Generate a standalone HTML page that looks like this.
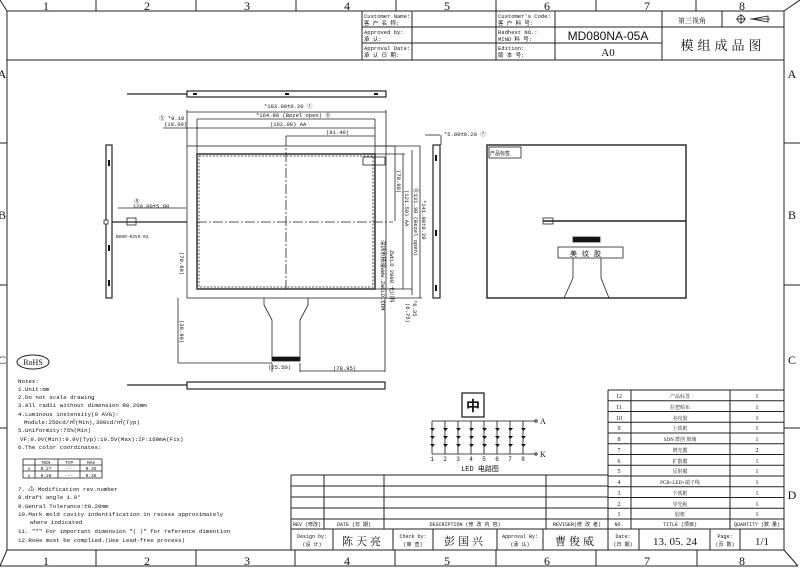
<!DOCTYPE html>
<html><head><meta charset="utf-8"><style>
html,body{margin:0;padding:0;background:#fff;}
svg{display:block;}
text{font-family:"Liberation Serif","Noto Serif CJK SC",serif;fill:#111;}
.m text, text.m{font-family:"Liberation Mono","Noto Sans CJK SC",monospace;}
.s text, text.s{font-family:"Liberation Sans","Noto Sans CJK SC",sans-serif;}
</style></head><body>
<svg width="800" height="568" viewBox="0 0 800 568" xmlns="http://www.w3.org/2000/svg">
<g stroke="#222" fill="none" stroke-width="1">
<rect x="7" y="11" width="777" height="539"/>
<line x1="0" y1="0" x2="7" y2="11"/><line x1="784" y1="11" x2="800" y2="0"/>
<line x1="0" y1="566" x2="7" y2="550"/><line x1="784" y1="550" x2="798" y2="566"/>
<line x1="0" y1="566" x2="798" y2="566"/>
<line x1="96" y1="0" x2="96" y2="11"/><line x1="196" y1="0" x2="196" y2="11"/><line x1="296" y1="0" x2="296" y2="11"/><line x1="396" y1="0" x2="396" y2="11"/><line x1="496" y1="0" x2="496" y2="11"/><line x1="596" y1="0" x2="596" y2="11"/><line x1="696" y1="0" x2="696" y2="11"/>
<line x1="96" y1="550" x2="96" y2="566"/><line x1="196" y1="550" x2="196" y2="566"/><line x1="295" y1="550" x2="295" y2="566"/><line x1="395" y1="550" x2="395" y2="566"/><line x1="496" y1="550" x2="496" y2="566"/><line x1="596" y1="550" x2="596" y2="566"/><line x1="697" y1="550" x2="697" y2="566"/>
<line x1="0" y1="143" x2="7" y2="143"/><line x1="0" y1="285" x2="7" y2="285"/><line x1="0" y1="428" x2="7" y2="428"/>
<line x1="784" y1="143" x2="800" y2="143"/><line x1="784" y1="285" x2="800" y2="285"/><line x1="784" y1="428" x2="800" y2="428"/>
<line x1="7" y1="60" x2="784" y2="60"/>
<line x1="362" y1="11" x2="362" y2="60"/>
<line x1="362" y1="27" x2="662" y2="27"/><line x1="362" y1="43" x2="662" y2="43"/>
<line x1="662" y1="27" x2="784" y2="27"/>
<line x1="412" y1="11" x2="412" y2="60"/><line x1="496" y1="11" x2="496" y2="60"/><line x1="555" y1="11" x2="555" y2="60"/><line x1="662" y1="11" x2="662" y2="60"/><line x1="722" y1="11" x2="722" y2="27"/>
<line x1="291" y1="475" x2="608" y2="475"/><line x1="291" y1="486" x2="608" y2="486"/><line x1="291" y1="497" x2="608" y2="497"/><line x1="291" y1="508" x2="608" y2="508"/>
<line x1="291" y1="519" x2="784" y2="519"/><line x1="291" y1="529" x2="784" y2="529"/>
<line x1="291" y1="475" x2="291" y2="550"/>
<line x1="324" y1="475" x2="324" y2="529"/><line x1="384" y1="475" x2="384" y2="529"/><line x1="546" y1="475" x2="546" y2="529"/>
<line x1="333" y1="529" x2="333" y2="550"/><line x1="393" y1="529" x2="393" y2="550"/><line x1="433" y1="529" x2="433" y2="550"/><line x1="497" y1="529" x2="497" y2="550"/><line x1="543" y1="529" x2="543" y2="550"/><line x1="608" y1="529" x2="608" y2="550"/><line x1="639" y1="529" x2="639" y2="550"/><line x1="710" y1="529" x2="710" y2="550"/><line x1="740" y1="529" x2="740" y2="550"/>
<line x1="608" y1="390" x2="784" y2="390"/>
<line x1="608" y1="390" x2="608" y2="529"/><line x1="631" y1="390" x2="631" y2="529"/><line x1="730" y1="390" x2="730" y2="529"/>
<line x1="608" y1="400.75" x2="784" y2="400.75"/><line x1="608" y1="411.5" x2="784" y2="411.5"/><line x1="608" y1="422.25" x2="784" y2="422.25"/><line x1="608" y1="433" x2="784" y2="433"/><line x1="608" y1="443.75" x2="784" y2="443.75"/><line x1="608" y1="454.5" x2="784" y2="454.5"/><line x1="608" y1="465.25" x2="784" y2="465.25"/><line x1="608" y1="476" x2="784" y2="476"/><line x1="608" y1="486.75" x2="784" y2="486.75"/><line x1="608" y1="497.5" x2="784" y2="497.5"/><line x1="608" y1="508.25" x2="784" y2="508.25"/>
</g>
<g font-size="12" text-anchor="middle">
<text x="46" y="10">1</text><text x="147" y="10">2</text><text x="247" y="10">3</text><text x="347" y="10">4</text><text x="447" y="10">5</text><text x="547" y="10">6</text><text x="647" y="10">7</text><text x="742" y="10">8</text>
<text x="46" y="565">1</text><text x="147" y="565">2</text><text x="247" y="565">3</text><text x="347" y="565">4</text><text x="447" y="565">5</text><text x="547" y="565">6</text><text x="647" y="565">7</text><text x="742" y="565">8</text>
<text x="2" y="78">A</text><text x="2" y="219">B</text><text x="2" y="364">C</text>
<text x="792" y="78">A</text><text x="792" y="219">B</text><text x="792" y="364">C</text><text x="792" y="499">D</text>
</g>
<g font-size="5.5" class="m">
<text x="364" y="18">Customer Name:</text><text x="364" y="25">客 户 名 称:</text>
<text x="364" y="34">Approved by:</text><text x="364" y="41">承 认:</text>
<text x="364" y="50">Approval Date:</text><text x="364" y="57">承 认 日 期:</text>
<text x="498" y="18">Customer's Code:</text><text x="498" y="25">客 户 料 号:</text>
<text x="498" y="34">Radhest NO.:</text><text x="498" y="41">MIND 料 号:</text>
<text x="498" y="50">Edition:</text><text x="498" y="57">版 本 号:</text>
</g>
<text x="608" y="40" font-size="12" class="s" text-anchor="middle">MD080NA-05A</text>
<text x="608" y="56" font-size="11" text-anchor="middle">A0</text>
<text x="692" y="23" font-size="7" text-anchor="middle">第三视角</text>
<text x="723" y="50" font-size="13" text-anchor="middle" letter-spacing="4">模组成品图</text>
<g stroke="#111" fill="none" stroke-width="0.8"><circle cx="741" cy="19" r="3.5"/><line x1="736" y1="19" x2="746" y2="19"/><line x1="741" y1="14" x2="741" y2="24"/><path d="M752 19 L768 16 L768 22 Z"/><line x1="750" y1="19" x2="770" y2="19"/></g>
<ellipse cx="33" cy="362" rx="16" ry="7" fill="none" stroke="#222"/>
<text x="33" y="365" font-size="8" text-anchor="middle">RoHS</text>
<g font-size="5.8" class="m">
<text x="18" y="383">Notes:</text>
<text x="18" y="391">1.Unit:mm</text>
<text x="18" y="399">2.Do not scale drawing</text>
<text x="18" y="407">3.All radii without dimension R0.20mm</text>
<text x="18" y="416">4.Luminous instensity(9 AVG):</text>
<text x="24" y="424">Module:250cd/㎡(Min),300cd/㎡(Typ)</text>
<text x="18" y="432">5.Uniformity:75%(Min)</text>
<text x="20" y="441">VF:9.0V(Min):9.9V(Typ):10.5V(Max):IF:160mA(Fix)</text>
<text x="18" y="449">6.The color coordinates:</text>
<text x="18" y="491">7. ⚠ Modification rev.number</text>
<text x="18" y="499">8.draft angle 1.0°</text>
<text x="18" y="508">9.Genral Tolerance:±0.20mm</text>
<text x="18" y="516">10.Mark mold cavity indentification in recess approximately</text>
<text x="30" y="524">where indicated</text>
<text x="18" y="533">11. "*" For important dimension "( )" for reference dimention</text>
<text x="18" y="542">12.RoHs must be complied.(Use Lead-free process)</text>
</g>
<g stroke="#222" fill="none" stroke-width="0.8">
<rect x="23" y="459" width="79" height="19"/><line x1="23" y1="465" x2="102" y2="465"/><line x1="23" y1="471" x2="102" y2="471"/>
<line x1="35" y1="459" x2="35" y2="478"/><line x1="58" y1="459" x2="58" y2="478"/><line x1="80" y1="459" x2="80" y2="478"/>
</g>
<g font-size="4.5" class="m" text-anchor="middle">
<text x="46" y="464">MIN</text><text x="69" y="464">TYP</text><text x="91" y="464">MAX</text>
<text x="29" y="470">x</text><text x="46" y="470">0.27</text><text x="69" y="470">---</text><text x="91" y="470">0.35</text>
<text x="29" y="477">y</text><text x="46" y="477">0.28</text><text x="69" y="477">---</text><text x="91" y="477">0.36</text>
</g>
<g font-size="5" class="m" text-anchor="middle">
<text x="307" y="526">REV (修改)</text><text x="354" y="526">DATE (日 期)</text><text x="465" y="526">DESCRIPTION (修 改 内 容)</text><text x="577" y="526">REVISER(修 改 者)</text>
<text x="619" y="526">NO.</text><text x="680" y="526">TITLE (项目)</text><text x="757" y="526">QUANTITY (数 量)</text>
<text x="312" y="538">Design by:</text><text x="312" y="546">(设 计)</text>
<text x="413" y="538">Check by:</text><text x="413" y="546">(审 查)</text>
<text x="520" y="538">Approval By:</text><text x="520" y="546">(承 认)</text>
<text x="623" y="538">Date:</text><text x="623" y="546">(日 期)</text>
<text x="725" y="538">Page:</text><text x="725" y="546">(页 数)</text>
</g>
<g font-size="11" text-anchor="middle">
<text x="363" y="545" letter-spacing="3">陈天亮</text><text x="465" y="545" letter-spacing="3">彭国兴</text><text x="576" y="545" letter-spacing="3">曹俊威</text>
<text x="675" y="545">13. 05. 24</text><text x="762" y="545">1/1</text>
</g>
<g font-size="6" text-anchor="middle">
<text x="619" y="398">12</text><text x="680" y="398" font-size="5">产品标签</text><text x="757" y="398">1</text>
<text x="619" y="409">11</text><text x="680" y="409" font-size="5">拉把贴布</text><text x="757" y="409">1</text>
<text x="619" y="420">10</text><text x="680" y="420" font-size="5">美纹胶</text><text x="757" y="420">1</text>
<text x="619" y="430">9</text><text x="680" y="430" font-size="5">上铁框</text><text x="757" y="430">1</text>
<text x="619" y="441">8</text><text x="680" y="441" font-size="5">SDN 群创 玻璃</text><text x="757" y="441">1</text>
<text x="619" y="452">7</text><text x="680" y="452" font-size="5">增光膜</text><text x="757" y="452">2</text>
<text x="619" y="463">6</text><text x="680" y="463" font-size="5">扩散膜</text><text x="757" y="463">1</text>
<text x="619" y="473">5</text><text x="680" y="473" font-size="5">反射膜</text><text x="757" y="473">1</text>
<text x="619" y="484">4</text><text x="680" y="484" font-size="5">PCB+LED+端子线</text><text x="757" y="484">1</text>
<text x="619" y="495">3</text><text x="680" y="495" font-size="5">下铁框</text><text x="757" y="495">1</text>
<text x="619" y="506">2</text><text x="680" y="506" font-size="5">导光板</text><text x="757" y="506">1</text>
<text x="619" y="516">1</text><text x="680" y="516" font-size="5">胶框</text><text x="757" y="516">1</text>
</g>
<rect x="462" y="393" width="22" height="24" fill="none" stroke="#111" stroke-width="1.2"/>
<text x="473" y="411" font-size="14" class="s" font-weight="bold" text-anchor="middle">中</text>
<g stroke="#111" stroke-width="0.8" fill="none">
<line x1="432" y1="421" x2="535" y2="421"/><line x1="432" y1="454" x2="535" y2="454"/>
<circle cx="536" cy="421" r="1.2"/><circle cx="536" cy="454" r="1.2"/>
<line x1="432" y1="421" x2="432" y2="454"/><line x1="445" y1="421" x2="445" y2="454"/><line x1="458" y1="421" x2="458" y2="454"/><line x1="471" y1="421" x2="471" y2="454"/><line x1="484" y1="421" x2="484" y2="454"/><line x1="497" y1="421" x2="497" y2="454"/><line x1="510" y1="421" x2="510" y2="454"/><line x1="523" y1="421" x2="523" y2="454"/>
</g>
<g fill="#111">
<path d="M430 428h5l-2.5 3z M443 428h5l-2.5 3z M456 428h5l-2.5 3z M469 428h5l-2.5 3z M482 428h5l-2.5 3z M495 428h5l-2.5 3z M508 428h5l-2.5 3z M521 428h5l-2.5 3z"/>
<path d="M430 436h5l-2.5 3z M443 436h5l-2.5 3z M456 436h5l-2.5 3z M469 436h5l-2.5 3z M482 436h5l-2.5 3z M495 436h5l-2.5 3z M508 436h5l-2.5 3z M521 436h5l-2.5 3z"/>
<path d="M430 444h5l-2.5 3z M443 444h5l-2.5 3z M456 444h5l-2.5 3z M469 444h5l-2.5 3z M482 444h5l-2.5 3z M495 444h5l-2.5 3z M508 444h5l-2.5 3z M521 444h5l-2.5 3z"/>
</g>
<g font-size="6" text-anchor="middle" class="m">
<text x="432" y="461">1</text><text x="445" y="461">2</text><text x="458" y="461">3</text><text x="471" y="461">4</text><text x="484" y="461">5</text><text x="497" y="461">6</text><text x="510" y="461">7</text><text x="523" y="461">8</text>
<text x="480" y="471" font-size="7">LED 电路图</text>
</g>
<text x="540" y="424" font-size="8">A</text><text x="540" y="457" font-size="8">K</text>
<g stroke="#222" fill="none" stroke-width="0.8">
<rect x="187" y="91" width="199" height="6" stroke-width="1.2"/>
<line x1="127" y1="94" x2="187" y2="94" stroke-width="1.2"/>
<rect x="187" y="382" width="198" height="7" stroke-width="1.2"/>
<line x1="127" y1="385" x2="187" y2="385" stroke-width="1.2"/>
<rect x="187" y="146" width="199" height="152"/>
<rect x="197" y="154" width="178" height="135" stroke-width="1.4"/>
<rect x="199" y="156" width="174" height="131" stroke-dasharray="2,1.5"/>
<line x1="286" y1="136" x2="286" y2="289" stroke-dasharray="10,2,2,2"/>
<line x1="197" y1="222" x2="393" y2="222" stroke-dasharray="10,2,2,2"/>
<rect x="363" y="157" width="22" height="8"/>
<polyline points="264,298 264,305 272,320 272,360"/><polyline points="308,298 308,305 300,320 300,360"/>
<rect x="272" y="357" width="28" height="4" fill="#111"/>
<line x1="178" y1="298" x2="178" y2="363"/><line x1="178" y1="363" x2="272" y2="363"/>
<line x1="272" y1="363" x2="272" y2="372"/><line x1="300" y1="363" x2="300" y2="372"/>
<line x1="300" y1="371" x2="385" y2="371"/><line x1="385" y1="298" x2="385" y2="372"/>
<line x1="187" y1="110" x2="187" y2="146"/><line x1="386" y1="110" x2="386" y2="146"/>
<line x1="187" y1="112" x2="386" y2="112"/>
<line x1="197" y1="119" x2="375" y2="119"/><line x1="197" y1="119" x2="197" y2="154"/><line x1="375" y1="119" x2="375" y2="154"/>
<line x1="163" y1="128" x2="375" y2="128"/>
<line x1="286" y1="136" x2="375" y2="136"/>
<line x1="375" y1="146" x2="395" y2="146"/><line x1="395" y1="146" x2="395" y2="221"/>
<line x1="375" y1="154" x2="405" y2="154"/><line x1="403" y1="154" x2="403" y2="289"/>
<line x1="386" y1="146" x2="420" y2="146"/><line x1="412" y1="150" x2="412" y2="295"/>
<line x1="420" y1="146" x2="420" y2="298"/><line x1="386" y1="298" x2="422" y2="298"/>
<line x1="375" y1="289" x2="412" y2="289"/>
<rect x="106" y="145" width="6" height="153" stroke-width="1.2"/>
<rect x="433" y="145" width="7" height="153" stroke-width="1.2"/>
<line x1="425" y1="135" x2="440" y2="135"/>
<line x1="118" y1="208" x2="186" y2="208"/>
<line x1="112" y1="222" x2="187" y2="222" stroke-width="1.2"/>
<rect x="127" y="218" width="9" height="7"/>
<rect x="487" y="145" width="199" height="153" stroke-width="1.4"/>
<rect x="489" y="147" width="32" height="11"/>
<line x1="543" y1="221" x2="686" y2="221" stroke-width="1.4"/>
<rect x="543" y="218" width="10" height="6"/>
<rect x="558" y="247" width="65" height="11"/>
<rect x="573" y="237" width="27" height="5" fill="#111"/>
<polyline points="573,258 573,278 564,298"/><polyline points="601,258 601,278 609,298"/>
<line x1="441" y1="145" x2="441" y2="135"/>
</g>
<g fill="#fff" stroke="#222" stroke-width="0.8">
<rect x="104" y="220" width="4" height="4"/>
</g>
<g fill="#111">
<rect x="108" y="160" width="2" height="6"/><rect x="108" y="245" width="2" height="6"/><rect x="108" y="280" width="2" height="6"/>
<rect x="435" y="155" width="2" height="6"/><rect x="435" y="230" width="2" height="6"/><rect x="435" y="285" width="2" height="6"/>
<rect x="193" y="93" width="4" height="2"/><rect x="285" y="93" width="4" height="2"/><rect x="374" y="93" width="4" height="2"/>
</g>
<g font-size="5.5" class="m">
<text x="264" y="108">*183.00±0.20 ①</text>
<text x="256" y="117">*164.80 (Bezel open) ⑥</text>
<text x="270" y="126">(162.00) AA</text>
<text x="326" y="134">(91.40)</text>
<text x="159" y="120">⑤ *9.10</text>
<text x="164" y="126">(10.60)</text>
<text x="133" y="208">120.00±5.00</text>
<text x="134" y="203">⑧</text>
<text x="116" y="238" font-size="4.5">BHSR-02VS-01</text>
<text x="444" y="136">*5.80±0.20 ⑦</text>
<text x="490" y="155" font-size="5">产品标签</text>
<text x="268" y="369">(25.50)</text>
<text x="333" y="370">(78.85)</text>
<text x="570" y="256" font-size="7" letter-spacing="5">美纹胶</text>
</g>
<g font-size="5.5" class="m">
<text transform="translate(397,170) rotate(90)">(70.80)</text>
<text transform="translate(405,190) rotate(90)">(121.50) AA</text>
<text transform="translate(414,188) rotate(90)">⑥131.30 (Bezel open)</text>
<text transform="translate(422,200) rotate(90)">*141.00±0.20</text>
<text transform="translate(180,252) rotate(90)">(70.60)</text>
<text transform="translate(180,320) rotate(90)">(38.90)</text>
<text transform="translate(413,300) rotate(90)">*6.35</text>
<text transform="translate(406,303) rotate(90)">(6.75)</text>
<text transform="translate(381,240) rotate(90)" fill="#888">深圳市精瑞WWW.ZWCLD.COM</text>
<text transform="translate(390,250) rotate(90)" fill="#888">ZWCLD 2008 七川科</text>
</g>
</svg>
</body></html>
